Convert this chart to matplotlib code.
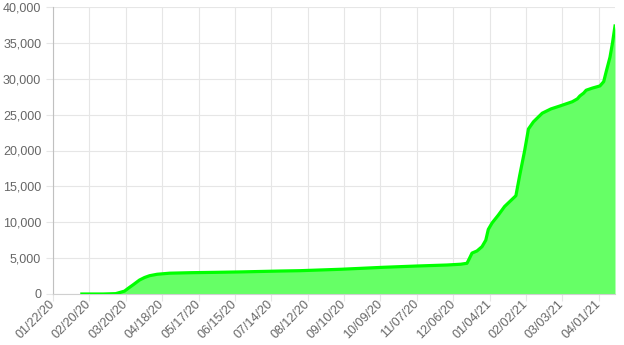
import pandas as pd
import matplotlib
matplotlib.use("Agg")
import matplotlib.pyplot as plt
import matplotlib.dates as mdates
from matplotlib.ticker import FuncFormatter

plt.rcParams['font.family'] = ['Liberation Sans', 'DejaVu Sans']

# cumulative counts
dates = ["02/14/20", "03/02/20", "03/12/20", "03/15/20", "03/17/20", "03/19/20",
         "03/22/20", "03/26/20", "03/31/20", "04/04/20", "04/08/20", "04/14/20",
         "04/24/20", "05/11/20", "05/31/20", "06/20/20", "07/21/20", "08/06/20",
         "09/08/20", "10/11/20", "11/07/20", "12/01/20", "12/12/20", "12/17/20",
         "12/19/20", "12/21/20", "12/25/20", "12/29/20", "01/01/21", "01/03/21",
         "01/06/21", "01/11/21", "01/16/21", "01/19/21", "01/22/21", "01/25/21",
         "01/28/21", "02/01/21", "02/04/21", "02/08/21", "02/15/21", "02/22/21",
         "03/01/21", "03/11/21", "03/15/21", "03/17/21", "03/20/21", "03/22/21",
         "03/27/21", "04/02/21", "04/05/21", "04/07/21", "04/10/21", "04/12/21",
         "04/14/21"]
values = [0, 0, 50, 200, 300, 400,
          800, 1300, 1950, 2300, 2550, 2750,
          2900, 2970, 3020, 3080, 3200, 3250,
          3450, 3720, 3900, 4040, 4150, 4280,
          4970, 5700, 6000, 6600, 7500, 9000,
          9900, 11000, 12200, 12700, 13200, 13700,
          16500, 20000, 23000, 24000, 25200, 25800,
          26200, 26800, 27200, 27600, 28000, 28400,
          28700, 29000, 29600, 31000, 33000, 35000,
          37350]

x = pd.to_datetime(dates, format="%m/%d/%y")
ticks = pd.date_range("2020-01-22", periods=16, freq="29D")

fig = plt.figure(figsize=(6.24, 3.45), dpi=100)
ax = fig.add_axes([53 / 624, 1 - 294 / 345, (615 - 53) / 624, (294 - 7) / 345])

ax.fill_between(x, values, 0, color=(0.4, 1.0, 0.4), lw=0, zorder=2)
ax.plot(x, values, color="#00ff00", lw=2.3, solid_joinstyle="round", zorder=3)

ax.set_xlim(pd.Timestamp("2020-01-22"), pd.Timestamp("2021-04-14"))
ax.set_ylim(0, 40000)
ax.set_xticks(ticks)
ax.xaxis.set_major_formatter(mdates.DateFormatter("%m/%d/%y"))
ax.set_yticks(range(0, 40001, 5000))
ax.yaxis.set_major_formatter(FuncFormatter(lambda v, p: f"{int(v):,}"))

ax.tick_params(colors="#666666", labelsize=9, length=5, width=0.8)
ax.tick_params(axis="both", color="#e6e6e6")
ax.tick_params(axis="x", pad=1)

for lab in ax.get_xticklabels():
    lab.set_rotation(45)
    lab.set_ha("right")
    lab.set_va("center")
    lab.set_rotation_mode("anchor")

ax.grid(True, color="#e6e6e6", lw=0.8, zorder=0)
ax.set_axisbelow(True)
for s in ["top", "right"]:
    ax.spines[s].set_visible(False)
ax.spines["bottom"].set_color("#d0d0d0")
ax.spines["left"].set_color("#c0c0c0")

fig.savefig("out.png", dpi=100)
